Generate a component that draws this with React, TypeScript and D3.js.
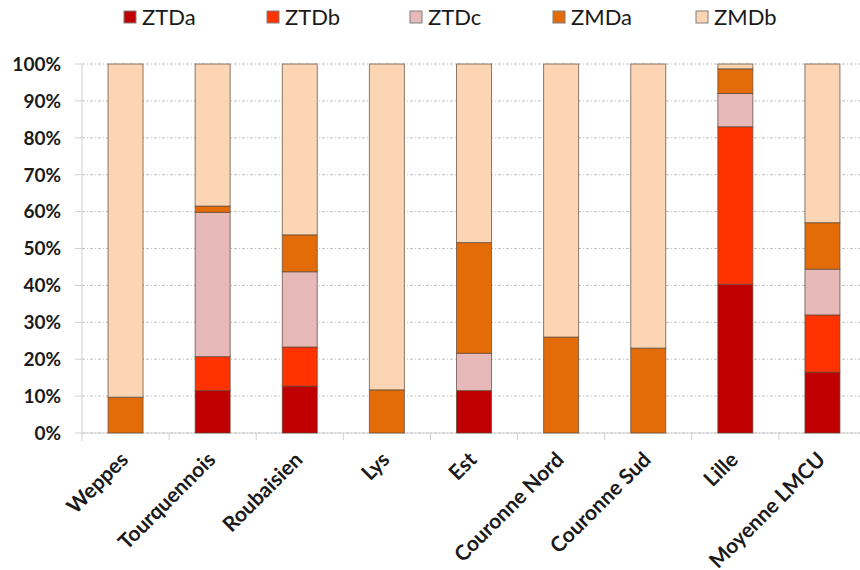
import React from "react";
import * as d3 from "d3";

const categories = [
  "Weppes",
  "Tourquennois",
  "Roubaisien",
  "Lys",
  "Est",
  "Couronne Nord",
  "Couronne Sud",
  "Lille",
  "Moyenne LMCU",
];

const seriesNames = ["ZTDa", "ZTDb", "ZTDc", "ZMDa", "ZMDb"];

// Shares in percent, per category
const ZTDa = [0, 11.5, 12.7, 0, 11.5, 0, 0, 40.3, 16.5];
const ZTDb = [0, 9.2, 10.6, 0, 0, 0, 0, 42.7, 15.5];
const ZTDc = [0, 39.1, 20.4, 0, 10.1, 0, 0, 9.0, 12.4];
const ZMDa = [9.7, 1.7, 10.0, 11.7, 30.0, 26.0, 23.0, 6.7, 12.6];
const ZMDb = [90.3, 38.5, 46.3, 88.3, 48.4, 74.0, 77.0, 1.3, 43.0];

const yTicks = [0, 10, 20, 30, 40, 50, 60, 70, 80, 90, 100];

const colors = ["#C00000", "#FF3300", "#E6B8B7", "#E36C09", "#FCD5B4"];

const W = 860;
const H = 570;
const margin = { left: 82, top: 64, right: -6, bottom: 137 };
const FONT = "Lato, 'Open Sans', 'Liberation Sans', sans-serif";

export default function App() {
  const values = [ZTDa, ZTDb, ZTDc, ZMDa, ZMDb];
  const rows = categories.map((c, i) => {
    const r: Record<string, any> = { cat: c };
    seriesNames.forEach((s, k) => (r[s] = values[k][i]));
    return r;
  });
  const stacked = d3.stack().keys(seriesNames)(rows as any);

  const x = d3
    .scaleBand()
    .domain(categories)
    .range([margin.left, W - margin.right])
    .paddingInner(0)
    .paddingOuter(0);
  const y = d3.scaleLinear().domain([0, 100]).range([H - margin.bottom, margin.top]);
  const barW = 35;
  const bottom = y(0);

  return (
    <svg
      width={W}
      height={H}
      style={{ position: "absolute", left: 0, top: 0, background: "#fff" }}
      fontFamily={FONT}
    >
      {/* horizontal gridlines */}
      {yTicks.map((t) => (
        <line
          key={"g" + t}
          x1={margin.left}
          x2={W}
          y1={y(t)}
          y2={y(t)}
          stroke="#bfbfbf"
          strokeWidth={1}
          strokeDasharray="3,2,1,2"
        />
      ))}
      {/* y axis */}
      <line x1={margin.left} x2={margin.left} y1={margin.top} y2={bottom + 8} stroke="#d0d0d0" />
      {yTicks.map((t) => (
        <g key={"yt" + t}>
          <line x1={margin.left - 7} x2={margin.left} y1={y(t)} y2={y(t)} stroke="#d0d0d0" />
          <text
            x={61}
            y={y(t)}
            dy="0.36em"
            textAnchor="end"
            fontSize={19}
            fontWeight="bold"
            fill="#1a1a1a"
          >
            {t}%
          </text>
        </g>
      ))}
      {/* x axis */}
      <line x1={margin.left} x2={W} y1={bottom} y2={bottom} stroke="#d0d0d0" />
      {categories.map((c) => (
        <line
          key={"xt" + c}
          x1={(x(c) as number) + x.bandwidth()}
          x2={(x(c) as number) + x.bandwidth()}
          y1={bottom}
          y2={bottom + 7}
          stroke="#d0d0d0"
        />
      ))}
      {/* bars */}
      {stacked.map((layer, k) => (
        <g key={layer.key} fill={colors[k]}>
          {layer.map((d, i) => {
            const h = y(d[0]) - y(d[1]);
            if (h <= 0) return null;
            const cx = (x(categories[i]) as number) + x.bandwidth() / 2;
            return (
              <rect
                key={i}
                x={cx - barW / 2}
                y={y(d[1])}
                width={barW}
                height={h}
                stroke="#5a4636"
                strokeOpacity={0.7}
                strokeWidth={1}
              />
            );
          })}
        </g>
      ))}
      {/* category labels */}
      {categories.map((c) => {
        const cx = (x(c) as number) + x.bandwidth() / 2;
        return (
          <text
            key={"xl" + c}
            transform={`translate(${cx + 4},${bottom + 28}) rotate(-45)`}
            textAnchor="end"
            fontSize={21}
            fontWeight="bold"
            fill="#1a1a1a"
          >
            {c}
          </text>
        );
      })}
      {/* legend */}
      {seriesNames.map((s, k) => {
        const lx = 124 + k * 143;
        return (
          <g key={"lg" + s}>
            <rect
              x={lx}
              y={11}
              width={12}
              height={12}
              fill={colors[k]}
              stroke="#7f7f7f"
              strokeWidth={1}
            />
            <text x={lx + 18} y={17} dy="0.36em" fontSize={22} fill="#1a1a1a">
              {s}
            </text>
          </g>
        );
      })}
    </svg>
  );
}
